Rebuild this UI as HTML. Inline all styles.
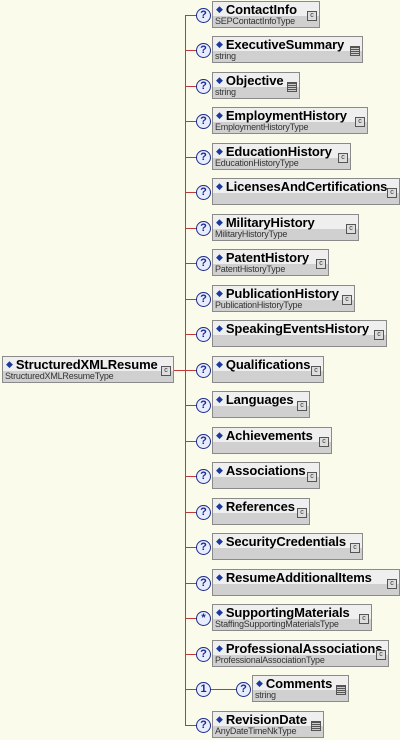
<!DOCTYPE html>
<html><head><style>
body{margin:0;width:400px;height:740px;background:#fbfbeb;position:relative;overflow:hidden;font-family:"Liberation Sans",sans-serif}
.b{position:absolute;height:25px;border:1px solid #8a8a8a;background:#d0d0d0;box-sizing:content-box}
.b .t{height:14px;background:#efefef;font-weight:bold;font-size:13px;line-height:15px;padding-left:3px;white-space:nowrap;color:#000;letter-spacing:-0.1px}
.b .t:before{content:"◆";color:#1a3a9a;font-size:9px;margin-right:3px;vertical-align:2px;font-family:"DejaVu Sans",sans-serif}
.b .s{font-size:9px;line-height:11px;padding-left:2px;color:#333;white-space:nowrap;letter-spacing:-0.2px}
.b .i{position:absolute;right:2px;top:9px;width:8px;height:8px;border:1px solid #555;background:#ddd;font-size:7px;line-height:8px;text-align:center;color:#333}
.b .i.l{background:repeating-linear-gradient(#555 0 1px,#ccc 1px 2px)}
.c{position:absolute;width:13px;height:13px;border:1px solid #1a2a8a;border-radius:50%;background:#e8ecff;color:#1a2a8a;font-weight:bold;font-size:11px;line-height:13px;text-align:center}
.h{position:absolute;height:1px;background:#c03838}
</style></head><body>
<div style="position:absolute;left:185px;top:15px;width:1px;height:711px;background:#c03838"></div>
<div class="h" style="left:173px;top:370px;width:13px"></div>
<div class="b" style="left:2px;top:356px;width:170px"><div class="t">StructuredXMLResume</div><div class="s">StructuredXMLResumeType</div><div class="i">c</div></div>

<div class="h" style="left:185px;top:15px;width:12px"></div><div class="c" style="left:196px;top:8px">?</div>
<div class="b" style="left:212px;top:1px;width:106px"><div class="t">ContactInfo</div><div class="s">SEPContactInfoType</div><div class="i">c</div></div>

<div class="h" style="left:185px;top:50px;width:12px"></div><div class="c" style="left:196px;top:43px">?</div>
<div class="b" style="left:212px;top:36px;width:149px"><div class="t">ExecutiveSummary</div><div class="s">string</div><div class="i l"></div></div>

<div class="h" style="left:185px;top:86px;width:12px"></div><div class="c" style="left:196px;top:79px">?</div>
<div class="b" style="left:212px;top:72px;width:86px"><div class="t">Objective</div><div class="s">string</div><div class="i l"></div></div>

<div class="h" style="left:185px;top:121px;width:12px"></div><div class="c" style="left:196px;top:114px">?</div>
<div class="b" style="left:212px;top:107px;width:154px"><div class="t">EmploymentHistory</div><div class="s">EmploymentHistoryType</div><div class="i">c</div></div>

<div class="h" style="left:185px;top:157px;width:12px"></div><div class="c" style="left:196px;top:150px">?</div>
<div class="b" style="left:212px;top:143px;width:137px"><div class="t">EducationHistory</div><div class="s">EducationHistoryType</div><div class="i">c</div></div>

<div class="h" style="left:185px;top:192px;width:12px"></div><div class="c" style="left:196px;top:185px">?</div>
<div class="b" style="left:212px;top:178px;width:186px"><div class="t">LicensesAndCertifications</div><div class="s"></div><div class="i">c</div></div>

<div class="h" style="left:185px;top:228px;width:12px"></div><div class="c" style="left:196px;top:221px">?</div>
<div class="b" style="left:212px;top:214px;width:145px"><div class="t">MilitaryHistory</div><div class="s">MilitaryHistoryType</div><div class="i">c</div></div>

<div class="h" style="left:185px;top:263px;width:12px"></div><div class="c" style="left:196px;top:256px">?</div>
<div class="b" style="left:212px;top:249px;width:115px"><div class="t">PatentHistory</div><div class="s">PatentHistoryType</div><div class="i">c</div></div>

<div class="h" style="left:185px;top:299px;width:12px"></div><div class="c" style="left:196px;top:292px">?</div>
<div class="b" style="left:212px;top:285px;width:141px"><div class="t">PublicationHistory</div><div class="s">PublicationHistoryType</div><div class="i">c</div></div>

<div class="h" style="left:185px;top:334px;width:12px"></div><div class="c" style="left:196px;top:327px">?</div>
<div class="b" style="left:212px;top:320px;width:173px"><div class="t">SpeakingEventsHistory</div><div class="s"></div><div class="i">c</div></div>

<div class="h" style="left:185px;top:370px;width:12px"></div><div class="c" style="left:196px;top:363px">?</div>
<div class="b" style="left:212px;top:356px;width:110px"><div class="t">Qualifications</div><div class="s"></div><div class="i">c</div></div>

<div class="h" style="left:185px;top:405px;width:12px"></div><div class="c" style="left:196px;top:398px">?</div>
<div class="b" style="left:212px;top:391px;width:96px"><div class="t">Languages</div><div class="s"></div><div class="i">c</div></div>

<div class="h" style="left:185px;top:441px;width:12px"></div><div class="c" style="left:196px;top:434px">?</div>
<div class="b" style="left:212px;top:427px;width:118px"><div class="t">Achievements</div><div class="s"></div><div class="i">c</div></div>

<div class="h" style="left:185px;top:476px;width:12px"></div><div class="c" style="left:196px;top:469px">?</div>
<div class="b" style="left:212px;top:462px;width:106px"><div class="t">Associations</div><div class="s"></div><div class="i">c</div></div>

<div class="h" style="left:185px;top:512px;width:12px"></div><div class="c" style="left:196px;top:505px">?</div>
<div class="b" style="left:212px;top:498px;width:96px"><div class="t">References</div><div class="s"></div><div class="i">c</div></div>

<div class="h" style="left:185px;top:547px;width:12px"></div><div class="c" style="left:196px;top:540px">?</div>
<div class="b" style="left:212px;top:533px;width:149px"><div class="t">SecurityCredentials</div><div class="s"></div><div class="i">c</div></div>

<div class="h" style="left:185px;top:583px;width:12px"></div><div class="c" style="left:196px;top:576px">?</div>
<div class="b" style="left:212px;top:569px;width:186px"><div class="t">ResumeAdditionalItems</div><div class="s"></div><div class="i">c</div></div>

<div class="h" style="left:185px;top:618px;width:12px"></div><div class="c" style="left:196px;top:611px">*</div>
<div class="b" style="left:212px;top:604px;width:158px"><div class="t">SupportingMaterials</div><div class="s">StaffingSupportingMaterialsType</div><div class="i">c</div></div>

<div class="h" style="left:185px;top:654px;width:12px"></div><div class="c" style="left:196px;top:647px">?</div>
<div class="b" style="left:212px;top:640px;width:175px"><div class="t">ProfessionalAssociations</div><div class="s">ProfessionalAssociationType</div><div class="i">c</div></div>

<div class="h" style="left:185px;top:689px;width:52px"></div><div class="c" style="left:196px;top:682px">1</div><div class="c" style="left:236px;top:682px">?</div>
<div class="b" style="left:252px;top:675px;width:95px"><div class="t">Comments</div><div class="s">string</div><div class="i l"></div></div>

<div class="h" style="left:185px;top:725px;width:12px"></div><div class="c" style="left:196px;top:718px">?</div>
<div class="b" style="left:212px;top:711px;width:110px"><div class="t">RevisionDate</div><div class="s">AnyDateTimeNkType</div><div class="i l"></div></div>
</body></html>
